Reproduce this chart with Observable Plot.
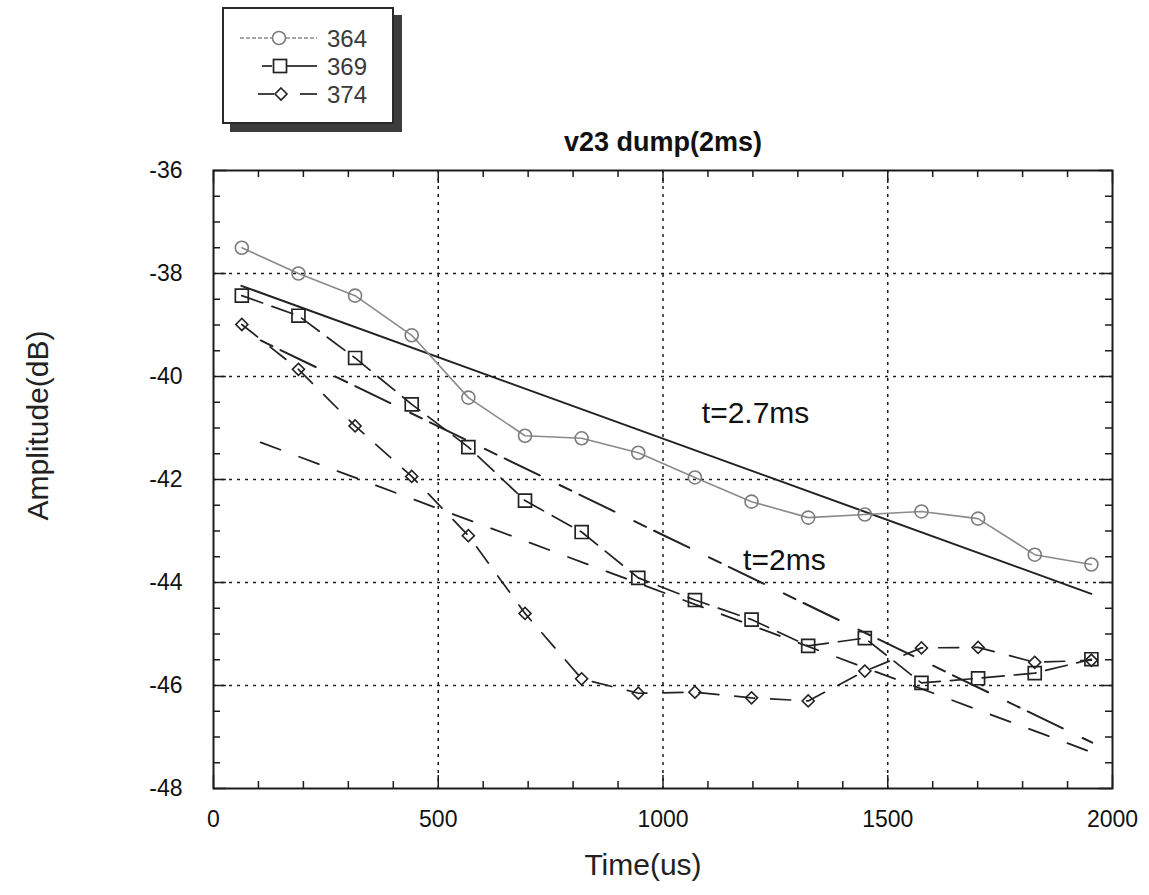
<!DOCTYPE html>
<html>
<head>
<meta charset="utf-8">
<script src="https://cdn.jsdelivr.net/npm/d3@7"></script>
<script src="https://cdn.jsdelivr.net/npm/@observablehq/plot@0.6"></script>
<style>
  body { margin: 0; background: #fff; font-family: "Liberation Sans", Arial, sans-serif; }
  #wrap { position: relative; width: 1149px; height: 895px; }
  #legend { position: absolute; left: 222px; top: 7px; width: 168px; height: 113px;
            border: 2px solid #2a2a2a; background: #fff; box-shadow: 8px 8px 0 #3c3c3c; }
  #legend svg { display: block; }
</style>
</head>
<body>
<div id="wrap">
  <div id="chart"></div>
  <div id="legend"></div>
</div>
<script>
// ---- data ----
const time = [63, 189, 315, 441, 567, 693, 819, 945, 1071, 1197, 1323, 1449, 1575, 1701, 1827, 1953];
const s364 = [-37.50, -38.00, -38.43, -39.20, -40.41, -41.15, -41.20, -41.48, -41.96, -42.43, -42.74, -42.68, -42.62, -42.76, -43.46, -43.65];
const s369 = [-38.43, -38.82, -39.64, -40.54, -41.37, -42.41, -43.02, -43.91, -44.34, -44.72, -45.23, -45.08, -45.95, -45.86, -45.76, -45.49];
const s374 = [-38.99, -39.86, -40.96, -41.94, -43.09, -44.60, -45.87, -46.15, -46.13, -46.24, -46.30, -45.72, -45.27, -45.26, -45.55, -45.51];
const seriesNames = ["364", "369", "374"];

// straight decay fit lines (end points)
const fitSolidX = [62, 1953],  fitSolidY = [-38.24, -44.22];
const fitAX = [105, 1955],     fitAY = [-39.30, -47.11];
const fitBX = [105, 1955],     fitBY = [-41.28, -47.30];

// annotations
const noteText = ["t=2.7ms", "t=2ms"];
const noteX = [1206, 1270];
const noteY = [-40.72, -43.57];

// axes
const xTicks = [0, 500, 1000, 1500, 2000];
const yTicks = [-36, -38, -40, -42, -44, -46, -48];
const xGrid = [500, 1000, 1500];
const yGrid = [-38, -40, -42, -44, -46];
const title = "v23 dump(2ms)";
const xLabel = "Time(us)";
const yLabel = "Amplitude(dB)";

// ---- build ----
const W = 1149, H = 895, mL = 213, mR = 37, mT = 170, mB = 107;
const fw = W - mL - mR, fh = H - mT - mB;
const minorX = d3.range(100, 2000, 100).filter(v => v % 500 !== 0);
const minorY = d3.range(-47.5, -36, 0.5).filter(v => v % 2 !== 0);

const rows = (vals) => time.map((t, i) => ({t, v: vals[i]}));
const seg = (xs, ys) => xs.map((x, i) => ({t: x, v: ys[i]}));
const notes = noteText.map((s, i) => ({s, t: noteX[i], v: noteY[i]}));

const ink = "#1c1c1c";
const tickMarks = (len, xs, ys) => [
  Plot.ruleX(xs, {x: d => d, insetTop: fh - len, stroke: ink, strokeWidth: 1.5}),
  Plot.ruleX(xs, {x: d => d, insetBottom: fh - len, stroke: ink, strokeWidth: 1.5}),
  Plot.ruleY(ys, {y: d => d, insetRight: fw - len, stroke: ink, strokeWidth: 1.5}),
  Plot.ruleY(ys, {y: d => d, insetLeft: fw - len, stroke: ink, strokeWidth: 1.5})
];

const chart = Plot.plot({
  width: W, height: H,
  marginLeft: mL, marginRight: mR, marginTop: mT, marginBottom: mB,
  style: {fontSize: "23px", fontFamily: "'Liberation Sans', Arial, sans-serif", color: "#111", background: "#fff"},
  x: {domain: [0, 2000], ticks: xTicks, tickSize: 0, tickPadding: 22, tickFormat: d => String(d), label: null},
  y: {domain: [-48, -36], ticks: yTicks, tickSize: 0, tickPadding: 31, tickFormat: d => String(d), label: null},
  marks: [
    Plot.ruleX(xGrid, {x: d => d, stroke: ink, strokeWidth: 1.5, strokeDasharray: "3,5"}),
    Plot.ruleY(yGrid, {y: d => d, stroke: ink, strokeWidth: 1.5, strokeDasharray: "3,5"}),
    ...tickMarks(7, minorX, minorY),
    ...tickMarks(13, xTicks, yTicks),
    Plot.frame({stroke: ink, strokeWidth: 2}),

    // fit lines
    Plot.line(seg(fitSolidX, fitSolidY), {x: "t", y: "v", stroke: "#222", strokeWidth: 2}),
    Plot.line(seg(fitAX, fitAY), {x: "t", y: "v", stroke: "#222", strokeWidth: 2, strokeDasharray: "13,9,39,22"}),
    Plot.line(seg(fitBX, fitBY), {x: "t", y: "v", stroke: "#222", strokeWidth: 1.8, strokeDasharray: "21,20"}),

    // series
    Plot.line(rows(s364), {x: "t", y: "v", stroke: "#8a8a8a", strokeWidth: 1.6}),
    Plot.line(rows(s369), {x: "t", y: "v", stroke: "#222", strokeWidth: 1.7, strokeDasharray: "22,10"}),
    Plot.line(rows(s374), {x: "t", y: "v", stroke: "#222", strokeWidth: 1.7, strokeDasharray: "20,16"}),
    Plot.dot(rows(s364), {x: "t", y: "v", symbol: "circle", r: 6.5, stroke: "#7c7c7c", strokeWidth: 1.6, fill: "none"}),
    Plot.dot(rows(s369), {x: "t", y: "v", symbol: "square", r: 7.3, stroke: "#222", strokeWidth: 1.7, fill: "none"}),
    Plot.dot(rows(s374), {x: "t", y: "v", symbol: "square", rotate: 45, r: 4.8, stroke: "#222", strokeWidth: 1.6, fill: "none"}),

    // annotations & labels
    Plot.text(notes, {x: "t", y: "v", text: "s", fontSize: 30, fill: "#111"}),
    Plot.text([title], {frameAnchor: "top", dy: -39, text: d => d, fontSize: 27, fontWeight: "bold", fill: "#111"}),
    Plot.text([xLabel], {frameAnchor: "bottom", dx: -20, dy: 86, text: d => d, fontSize: 30, fill: "#222"}),
    Plot.text([yLabel], {frameAnchor: "left", textAnchor: "middle", lineAnchor: "middle", dx: -175, dy: -54, rotate: -90, text: d => d, fontSize: 30, fill: "#222"})
  ]
});
document.getElementById("chart").appendChild(chart);

// ---- legend ----
const leg = d3.select("#legend").append("svg").attr("width", 168).attr("height", 113);
const legRows = [{y: 29}, {y: 57}, {y: 85}];
// 364
leg.append("line").attr("x1", 16).attr("x2", 48).attr("y1", legRows[0].y).attr("y2", legRows[0].y)
  .attr("stroke", "#8a8a8a").attr("stroke-width", 1.6).attr("stroke-dasharray", "4,2");
leg.append("line").attr("x1", 62).attr("x2", 93).attr("y1", legRows[0].y).attr("y2", legRows[0].y)
  .attr("stroke", "#8a8a8a").attr("stroke-width", 1.6).attr("stroke-dasharray", "4,2");
leg.append("circle").attr("cx", 55).attr("cy", legRows[0].y).attr("r", 6.5)
  .attr("fill", "none").attr("stroke", "#7c7c7c").attr("stroke-width", 1.6);
// 369
leg.append("line").attr("x1", 38).attr("x2", 48).attr("y1", legRows[1].y).attr("y2", legRows[1].y)
  .attr("stroke", "#222").attr("stroke-width", 1.7);
leg.append("line").attr("x1", 63).attr("x2", 93).attr("y1", legRows[1].y).attr("y2", legRows[1].y)
  .attr("stroke", "#222").attr("stroke-width", 1.7);
leg.append("rect").attr("x", 49.5).attr("y", legRows[1].y - 6.5).attr("width", 13).attr("height", 13)
  .attr("fill", "none").attr("stroke", "#222").attr("stroke-width", 1.7);
// 374
leg.append("line").attr("x1", 34).attr("x2", 50).attr("y1", legRows[2].y).attr("y2", legRows[2].y)
  .attr("stroke", "#222").attr("stroke-width", 1.7);
leg.append("line").attr("x1", 76).attr("x2", 93).attr("y1", legRows[2].y).attr("y2", legRows[2].y)
  .attr("stroke", "#222").attr("stroke-width", 1.7);
leg.append("path").attr("d", `M57,${legRows[2].y - 6}L63,${legRows[2].y}L57,${legRows[2].y + 6}L51,${legRows[2].y}Z`)
  .attr("fill", "none").attr("stroke", "#222").attr("stroke-width", 1.6);
seriesNames.forEach((n, i) => {
  leg.append("text").attr("x", 103).attr("y", legRows[i].y + 8.5).text(n)
    .attr("font-size", 24).attr("fill", "#3a3a3a").attr("font-family", "'Liberation Sans', Arial, sans-serif");
});
</script>
</body>
</html>
